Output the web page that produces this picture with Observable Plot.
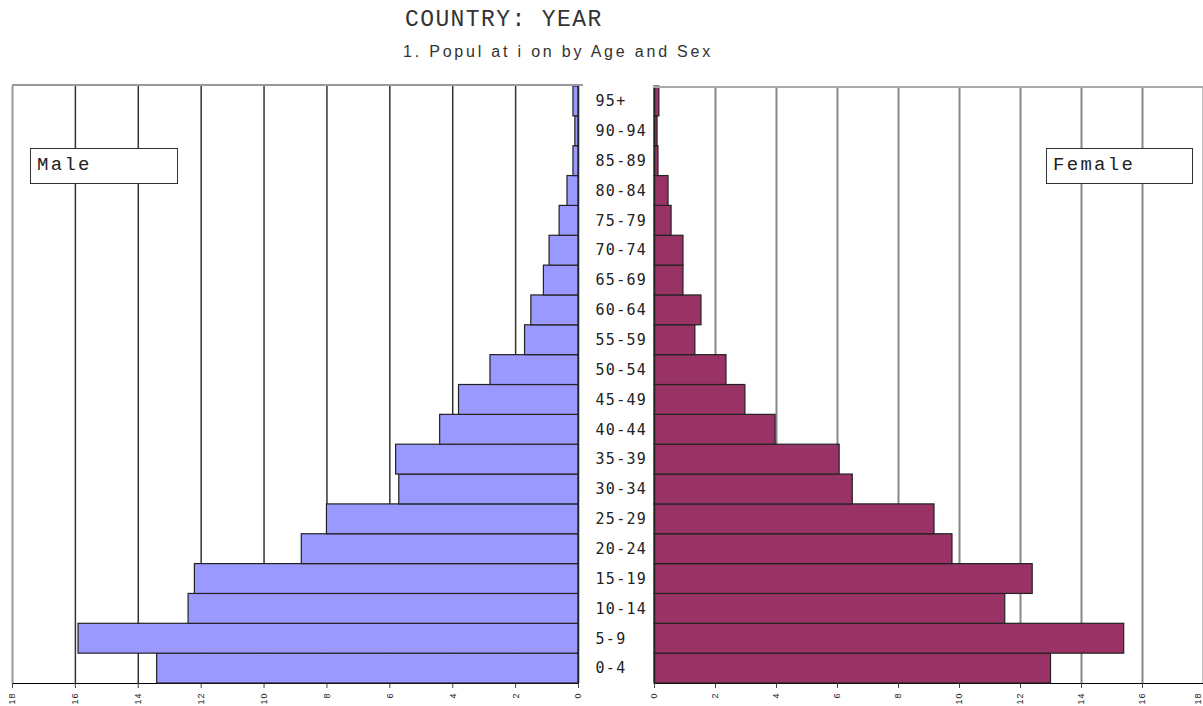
<!DOCTYPE html>
<html><head><meta charset="utf-8">
<script src="https://cdn.jsdelivr.net/npm/d3@7"></script>
<script src="https://cdn.jsdelivr.net/npm/@observablehq/plot@0.6"></script>
<style>
html,body{margin:0;padding:0;background:#fff;overflow:hidden;}
#wrap{position:relative;width:1203px;height:706px;overflow:hidden;}
.abs{position:absolute;white-space:pre;}
#title{left:405px;top:7px;font-family:"Liberation Mono",monospace;font-size:23px;letter-spacing:1.4px;color:#333;}
#sub{left:403px;top:43px;font-family:"Liberation Sans",Arial,sans-serif;font-size:16px;letter-spacing:2.8px;color:#333;}
.leg{position:absolute;box-sizing:border-box;border:1.5px solid #333;background:#fff;font-family:"Liberation Mono",monospace;font-size:19px;letter-spacing:2.3px;color:#222;padding-left:6px;line-height:33px;white-space:pre;}
#pl,#pr{position:absolute;top:0;}
#pl{left:0;} #pr{left:600px;}
</style></head>
<body><div id="wrap">
<div id="title" class="abs">COUNTRY: YEAR</div>
<div id="sub" class="abs">1. Popul at i on by Age and Sex</div>
<div id="pl"></div>
<div id="pr"></div>
<div class="leg" style="left:30px;top:148px;width:148px;height:36px;">Male</div>
<div class="leg" style="left:1046px;top:148px;width:147px;height:36px;">Female</div>
</div>
<script>
const ages = ["0-4","5-9","10-14","15-19","20-24","25-29","30-34","35-39","40-44","45-49","50-54","55-59","60-64","65-69","70-74","75-79","80-84","85-89","90-94","95+"];
const male = [13.4,15.9,12.4,12.2,8.8,8.0,5.7,5.8,4.4,3.8,2.8,1.7,1.5,1.1,0.92,0.6,0.35,0.16,0.1,0.16];
const female = [13.0,15.4,11.5,12.4,9.77,9.18,6.5,6.07,3.97,2.98,2.36,1.34,1.54,0.95,0.95,0.56,0.46,0.13,0.1,0.16];
const xTicks = [0,2,4,6,8,10,12,14,16,18];
const gridTicks = [2,4,6,8,10,12,14,16];

const agesTopDown = ages.slice().reverse();
const rows = ages.map((a,i)=>({age:a, male:male[i], female:female[i]}));

function styleAxes(svg){
  const s = d3.select(svg);
  s.selectAll('g[aria-label="x-axis"] text, g[aria-label="x-axis tick label"] text')
    .style("font-family","'Liberation Sans',Arial,sans-serif").style("font-size","9px").style("letter-spacing","1px").attr("fill","#222");
  s.selectAll('g[aria-label="y-axis"] text, g[aria-label="y-axis tick label"] text')
    .style("font-family","'DejaVu Sans Mono',monospace").style("font-size","15px").style("letter-spacing","1.3px").attr("fill","#222");
  s.selectAll('g[aria-label="x-axis"] line, g[aria-label="x-axis tick"] path, g[aria-label="x-axis"] path')
    .attr("stroke","#444");
}

const left = Plot.plot({
  width: 654, height: 706,
  marginLeft: 12, marginRight: 76, marginTop: 86, marginBottom: 23,
  style: {background: "transparent", overflow: "visible"},
  x: {domain: [18, 0], ticks: xTicks, tickSize: 5, tickPadding: 4, tickRotate: -90, line: true, label: null},
  y: {domain: agesTopDown, padding: 0, round: false, axis: "right", tickSize: 0, tickPadding: 17, label: null},
  marks: [
    Plot.ruleX([18], {stroke: "#999", strokeWidth: 2}),
    Plot.ruleX(gridTicks, {stroke: "#333", strokeWidth: 1.5}),
    Plot.barX(rows, {y: "age", x1: 0, x2: "male", fill: "#9999ff", stroke: "#222", strokeWidth: 1.2}),
    Plot.ruleX([0], {stroke: "#222", strokeWidth: 1.5})
  ]
});
d3.select(left).append("line").attr("x1",12).attr("x2",583).attr("y1",85).attr("y2",85).attr("stroke","#999").attr("stroke-width",2);
styleAxes(left);
document.getElementById("pl").appendChild(left);

const right = Plot.plot({
  width: 603, height: 706,
  marginLeft: 54, marginRight: 0, marginTop: 86, marginBottom: 23,
  style: {background: "transparent", overflow: "visible"},
  x: {domain: [0, 18], ticks: xTicks, tickSize: 5, tickPadding: 4, tickRotate: -90, line: true, label: null},
  y: {domain: agesTopDown, padding: 0, round: false, axis: null},
  marks: [
    Plot.ruleX(gridTicks.concat([18]), {stroke: "#888", strokeWidth: 2}),
    Plot.barX(rows, {y: "age", x1: 0, x2: "female", fill: "#993366", stroke: "#222", strokeWidth: 1.2}),
    Plot.ruleX([0], {stroke: "#222", strokeWidth: 1.5})
  ]
});
d3.select(right).append("line").attr("x1",53).attr("x2",603).attr("y1",87).attr("y2",87).attr("stroke","#aaa").attr("stroke-width",2);
styleAxes(right);
d3.select(right).selectAll('g[aria-label="x-axis"] text, g[aria-label="x-axis tick label"] text')
  .filter(function(){ return this.textContent.trim() === "18"; })
  .each(function(){ const t = this.getAttribute("transform") || ""; this.setAttribute("transform", "translate(-5,0) " + t); });
document.getElementById("pr").appendChild(right);
</script>
</body></html>
